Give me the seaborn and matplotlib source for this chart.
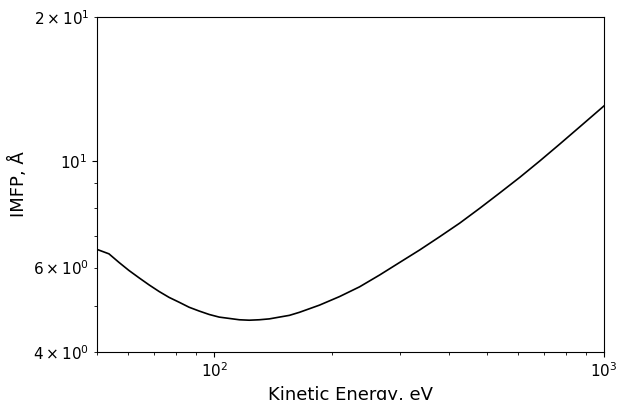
import numpy as np
import pandas as pd
import seaborn as sns
import matplotlib
matplotlib.use("Agg")
import matplotlib.pyplot as plt

# values (kinetic energy in eV, IMFP in Angstrom)
energy = [50, 53.7, 57.0, 60.4, 64.2, 68.1, 72.2, 76.6, 81.3, 86.2, 91.5,
          97.1, 103.0, 109.3, 116.0, 123.0, 130.5, 138.5, 146.9, 155.9,
          165.4, 186.2, 209.6, 235.9, 265.6, 299, 336.5, 378.8, 426.4, 480,
          540.2, 608.2, 684.7, 770.7, 867.6, 1000]
imfp = [6.55, 6.41, 6.15, 5.92, 5.71, 5.52, 5.35, 5.20, 5.08, 4.96, 4.87,
        4.79, 4.73, 4.70, 4.67, 4.66, 4.67, 4.69, 4.73, 4.77,
        4.84, 5.01, 5.22, 5.47, 5.79, 6.15, 6.53, 6.96, 7.43, 7.98,
        8.59, 9.26, 10.02, 10.87, 11.81, 13.05]

df = pd.DataFrame({"energy": energy, "imfp": imfp})

fig = plt.figure(figsize=(6.17, 4.0), dpi=100)
ax = fig.add_axes([0.157, 0.12, 0.822, 0.8375])

sns.lineplot(data=df, x="energy", y="imfp", color="black", linewidth=1.2, ax=ax)

ax.set_xscale("log")
ax.set_yscale("log")
ax.set_xlim(50, 1000)
ax.set_ylim(4, 20)
ax.tick_params(which="both", labelsize=11)
ax.set_xlabel("Kinetic Energy, eV", fontsize=13)
ax.set_ylabel("IMFP, Å", fontsize=13)

fig.savefig("out.png", dpi=100)
